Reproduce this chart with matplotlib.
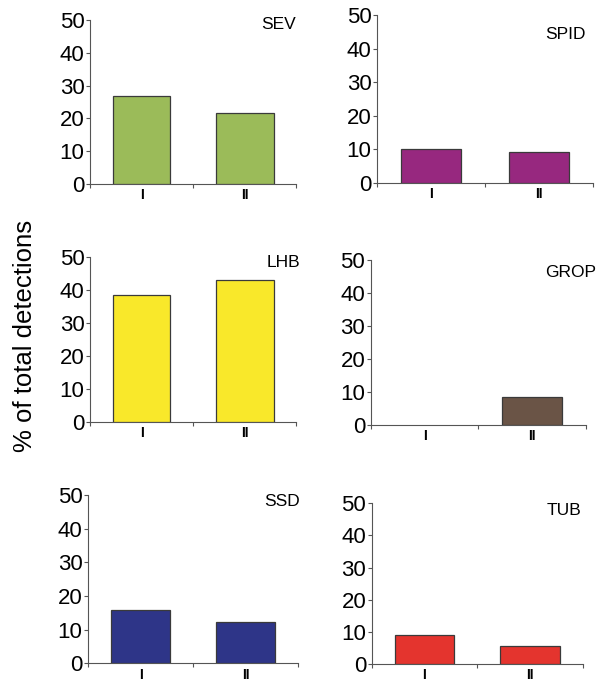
import matplotlib
matplotlib.use("Agg")
import matplotlib.pyplot as plt

plt.rcParams['font.family'] = ['Liberation Sans', 'DejaVu Sans']

categories = ["I", "II"]
panel_names = ["SEV", "SPID", "LHB", "GROP", "SSD", "TUB"]
sev = [26.8, 21.5]
spid = [10.0, 9.1]
lhb = [38.4, 42.9]
grop = [0.0, 8.6]
ssd = [15.8, 12.4]
tub = [9.1, 5.5]
values = [sev, spid, lhb, grop, ssd, tub]
colors = ["#9bbb59", "#97287f", "#f9e82a", "#6a5446", "#2e3588", "#e4342e"]
y_ticks = [0, 10, 20, 30, 40, 50]

positions = [
    [0.1488, 0.7318, 0.341, 0.239],
    [0.6231, 0.7337, 0.357, 0.2443],
    [0.1488, 0.3844, 0.341, 0.2414],
    [0.6127, 0.3800, 0.356, 0.2410],
    [0.1455, 0.0330, 0.347, 0.2454],
    [0.6144, 0.0320, 0.3488, 0.2343],
]
title_pos = [
    (1.0, 1.02),
    (0.968, 0.93),
    (1.02, 1.01),
    (1.045, 0.97),
    (1.01, 1.005),
    (0.995, 1.0),
]

fig = plt.figure(figsize=(6.05, 6.86), dpi=100)
for name, vals, col, pos, tp in zip(panel_names, values, colors, positions, title_pos):
    ax = fig.add_axes(pos)
    xs = list(range(len(categories)))
    lws = [0.9 if v > 0 else 0 for v in vals]
    ax.bar(xs, vals, width=0.56, color=col, edgecolor="#3a3a3a", linewidth=lws,
           zorder=3)
    ax.set_xlim(-0.5, len(categories) - 0.5)
    ax.set_ylim(0, 50)
    ax.set_yticks(y_ticks)
    ax.set_yticklabels([str(t) for t in y_ticks], fontsize=16)
    ax.set_xticks([-0.5, 0.5, 1.5])
    ax.set_xticklabels(["", "", ""])
    ax.set_xticks(xs, minor=True)
    ax.set_xticklabels(categories, minor=True, fontsize=10, fontweight="bold")
    ax.tick_params(axis="x", which="minor", length=0, pad=3)
    ax.tick_params(axis="x", which="major", length=3, width=0.8, color="#555555", direction="out")
    ax.tick_params(axis="y", length=3, width=0.8, color="#555555", direction="out", pad=1)
    for s in ["top", "right"]:
        ax.spines[s].set_visible(False)
    for s in ["left", "bottom"]:
        ax.spines[s].set_color("#555555")
        ax.spines[s].set_linewidth(0.8)
    ax.text(tp[0], tp[1], name, transform=ax.transAxes, ha="right", va="top",
            fontsize=12.5)

fig.text(0.041, 0.511, "% of total detections", rotation=90, ha="center", va="center",
         fontsize=18.5)

fig.savefig("out.png", dpi=100)
